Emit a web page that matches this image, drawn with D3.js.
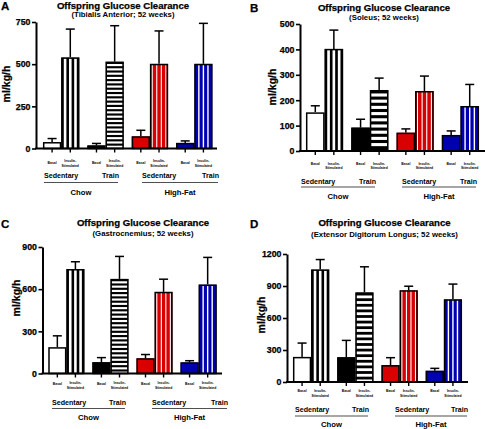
<!DOCTYPE html>
<html><head><meta charset="utf-8">
<script src="https://cdn.jsdelivr.net/npm/d3@7"></script>
<style>
body{margin:0;background:#fff}
svg{display:block}
text{font-family:"Liberation Sans",Arial,Helvetica,sans-serif;font-weight:bold;fill:#000}
.heavy{stroke:#000;stroke-width:0.25px}
</style>
</head><body>
<svg id="chart" width="485" height="429"></svg>
<script>
// ---------- data ----------
const panelLetters = ["A", "B", "C", "D"];
const muscles = ["Tibialis Anterior", "Soleus", "Gastrocnemius", "Extensor Digitorum Longus"];
const chartTitle = "Offspring Glucose Clearance";
const yLabel = "ml/kg/h";
const groups = ["Chow Sedentary", "Chow Train", "High-Fat Sedentary", "High-Fat Train"];
const conditions = ["Basal", "Insulin-Stimulated"];
const diets = ["Chow", "High-Fat"];
const activities = ["Sedentary", "Train"];

const taMean  = [38, 540, 18, 515, 72, 502, 33, 502];
const taUpper = [59, 708, 30, 728, 108, 697, 45, 742];
const solMean  = [152, 402, 92, 240, 72, 236, 63, 177];
const solUpper = [178, 476, 125, 287, 87, 295, 79, 262];
const gasMean  = [187, 743, 80, 673, 108, 581, 79, 633];
const gasUpper = [268, 795, 113, 833, 135, 671, 91, 826];
const edlMean  = [235, 1055, 232, 840, 158, 860, 105, 775];
const edlUpper = [365, 1148, 390, 1080, 228, 898, 128, 918];

const taTicks  = [0, 250, 500, 750];
const solTicks = [0, 100, 200, 300, 400, 500];
const gasTicks = [0, 300, 600, 900];
const edlTicks = [0, 300, 600, 900, 1200];

// ---------- styles / layout ----------
const RED = "#d80000", BLUE = "#0000b0";
const basalFill = ["#ffffff", "#000000", RED, BLUE];

const layout = [
  {ax:[36,217], bars:[43,212.5], y:[148.5,22], letter:[1,10], title:[123,9], sub:16.8, ylab:[10,84],
   off:{basal:15, ins1:13.5, ins2:18.5, act:29, line:34, diet:46}, lines:[[44,118],[142,218]], hp:4.3},
  {ax:[300,485], bars:[306,479], y:[151,24], letter:[250,12], title:[384,11], sub:20, ylab:[276,87],
   off:{basal:14, ins1:13.5, ins2:18, act:33, line:36, diet:48}, lines:[[301,375],[402,476]], hp:6.2},
  {ax:[42.5,222], bars:[48.3,216.7], y:[373.5,247], letter:[1,228], title:[143,226], sub:236, ylab:[20,298],
   off:{basal:11, ins1:10.5, ins2:15.5, act:31, line:35, diet:46}, lines:[[52,125],[152,227]], hp:4.3},
  {ax:[287,468], bars:[293,462], y:[382,254], letter:[250,228], title:[384.5,226], sub:237, ylab:[265,315],
   off:{basal:10, ins1:10, ins2:15, act:30, line:34, diet:45}, lines:[[295,368],[395,467]], hp:5.6}
];

const panelData = [
  {mean: taMean, upper: taUpper, ticks: taTicks},
  {mean: solMean, upper: solUpper, ticks: solTicks},
  {mean: gasMean, upper: gasUpper, ticks: gasTicks},
  {mean: edlMean, upper: edlUpper, ticks: edlTicks}
];

const svg = d3.select("#chart");
const defs = svg.append("defs");

panelData.forEach((pd, pi) => {
  const L = layout[pi];
  const g = svg.append("g");
  const yMax = pd.ticks[pd.ticks.length - 1];
  const y = d3.scaleLinear().domain([0, yMax]).range(L.y);
  const outer = d3.scaleBand().domain(groups).range(L.bars).paddingInner(0.18).paddingOuter(0);
  const inner = d3.scaleBand().domain(conditions).range([0, outer.bandwidth()]).padding(0);
  const bw = inner.bandwidth();

  const rows = [];
  groups.forEach((grp, gi) => conditions.forEach((c, ci) => {
    const i = gi * 2 + ci;
    rows.push({grp, gi, c, ci, mean: pd.mean[i], upper: pd.upper[i],
      x: outer(grp) + inner(c)});
  }));

  // panel letter, titles
  g.append("text").attr("class", "heavy").attr("x", L.letter[0]).attr("y", L.letter[1]).attr("font-size", 11.5).text(panelLetters[pi]);
  g.append("text").attr("class", "heavy").attr("x", L.title[0]).attr("y", L.title[1]).attr("text-anchor", "middle")
    .attr("font-size", 9.6).text(chartTitle);
  g.append("text").attr("x", L.title[0]).attr("y", L.sub).attr("text-anchor", "middle")
    .attr("font-size", 7.8).text("(" + muscles[pi] + "; 52 weeks)");
  g.append("text").attr("class", "heavy").attr("transform", `translate(${L.ylab[0]},${L.ylab[1]}) rotate(-90)`)
    .attr("text-anchor", "middle").attr("font-size", 10.5).text(yLabel);

  // error bars
  const eb = g.append("g").attr("stroke", "#000").attr("stroke-width", 1.5);
  rows.forEach(r => {
    const cx = r.x + bw / 2;
    eb.append("line").attr("x1", cx).attr("x2", cx).attr("y1", y(r.mean)).attr("y2", y(r.upper));
    eb.append("line").attr("x1", cx - 4.5).attr("x2", cx + 4.5).attr("y1", y(r.upper)).attr("y2", y(r.upper));
  });

  // bars
  rows.forEach((r, ri) => {
    const x0 = r.x, top = y(r.mean), h = y(0) - y(r.mean);
    const bg = g.append("g");
    if (r.ci === 0) {
      bg.append("rect").attr("x", x0).attr("y", top).attr("width", bw).attr("height", h)
        .attr("fill", basalFill[r.gi]);
    } else {
      const clipId = `clip-${pi}-${ri}`;
      defs.append("clipPath").attr("id", clipId).append("rect")
        .attr("x", x0).attr("y", top).attr("width", bw).attr("height", h);
      const s = bg.append("g").attr("clip-path", `url(#${clipId})`);
      if (r.gi === 0) {
        s.append("rect").attr("x", x0).attr("y", top).attr("width", bw).attr("height", h).attr("fill", "#000");
        const seg = bw / 7;
        [1, 3, 5].forEach(k => s.append("rect").attr("x", x0 + seg * k).attr("y", top)
          .attr("width", seg).attr("height", h).attr("fill", "#fff"));
      } else if (r.gi === 1) {
        s.append("rect").attr("x", x0).attr("y", top).attr("width", bw).attr("height", h).attr("fill", "#000");
        const p = L.hp;
        for (let yy = top + p * 0.55; yy < top + h - p * 0.4; yy += p) {
          s.append("rect").attr("x", x0).attr("y", yy).attr("width", bw).attr("height", p * 0.5).attr("fill", "#fff");
        }
      } else if (r.gi === 2) {
        s.append("rect").attr("x", x0).attr("y", top).attr("width", bw).attr("height", h).attr("fill", RED);
        [0.125, 0.375, 0.625, 0.875].forEach(f => s.append("rect").attr("x", x0 + bw * f - 0.55).attr("y", top)
          .attr("width", 1.1).attr("height", h).attr("fill", "#fff"));
      } else {
        s.append("rect").attr("x", x0).attr("y", top).attr("width", bw).attr("height", h).attr("fill", BLUE);
        [0.25, 0.5, 0.75].forEach(f => s.append("rect").attr("x", x0 + bw * f - 0.7).attr("y", top)
          .attr("width", 1.4).attr("height", h).attr("fill", "#fff"));
      }
    }
    bg.append("rect").attr("x", x0 + 0.7).attr("y", top + 0.7).attr("width", Math.max(0, bw - 1.4))
      .attr("height", Math.max(0, h - 0.7)).attr("fill", "none").attr("stroke", "#000").attr("stroke-width", 1.5);
  });

  // y axis
  const yAxis = d3.axisLeft(y).tickValues(pd.ticks).tickSize(4).tickSizeOuter(0).tickPadding(1.5)
    .tickFormat(d3.format("d"));
  const ya = g.append("g").attr("transform", `translate(${L.ax[0]},0)`).call(yAxis);
  ya.select(".domain").attr("stroke", "#000").attr("stroke-width", 2);
  ya.selectAll(".tick line").attr("stroke", "#000").attr("stroke-width", 1.6);
  ya.selectAll(".tick text").attr("class", "heavy").attr("font-size", 8.8).attr("font-family", null).attr("fill", "#000");

  // x axis line + ticks
  const y0 = y(0);
  g.append("line").attr("x1", L.ax[0] - 1).attr("x2", L.ax[1]).attr("y1", y0).attr("y2", y0)
    .attr("stroke", "#000").attr("stroke-width", 2);
  rows.forEach(r => {
    const cx = r.x + bw / 2;
    g.append("line").attr("x1", cx).attr("x2", cx).attr("y1", y0).attr("y2", y0 + 4)
      .attr("stroke", "#000").attr("stroke-width", 1.4);
    if (r.ci === 0) {
      g.append("text").attr("x", cx).attr("y", y0 + L.off.basal).attr("text-anchor", "middle")
        .attr("font-size", 3.4).text(r.c);
    } else {
      const parts = r.c.split("-");
      g.append("text").attr("x", cx).attr("y", y0 + L.off.ins1).attr("text-anchor", "middle")
        .attr("font-size", 3.4).text(parts[0] + "-");
      g.append("text").attr("x", cx).attr("y", y0 + L.off.ins2).attr("text-anchor", "middle")
        .attr("font-size", 3.4).text(parts[1]);
    }
  });

  // activity / diet labels
  diets.forEach((d, di) => {
    const [l0, l1] = L.lines[di];
    g.append("text").attr("x", l0).attr("y", y0 + L.off.act).attr("font-size", 7.1).text(activities[0]);
    g.append("text").attr("x", l1 + 1).attr("y", y0 + L.off.act).attr("text-anchor", "end")
      .attr("font-size", 7.1).text(activities[1]);
    g.append("line").attr("x1", l0).attr("x2", l1).attr("y1", y0 + L.off.line).attr("y2", y0 + L.off.line)
      .attr("stroke", "#222").attr("stroke-width", 0.8);
    g.append("text").attr("x", (l0 + l1) / 2).attr("y", y0 + L.off.diet).attr("text-anchor", "middle")
      .attr("font-size", 7.7).text(d);
  });
});
</script>
</body></html>
